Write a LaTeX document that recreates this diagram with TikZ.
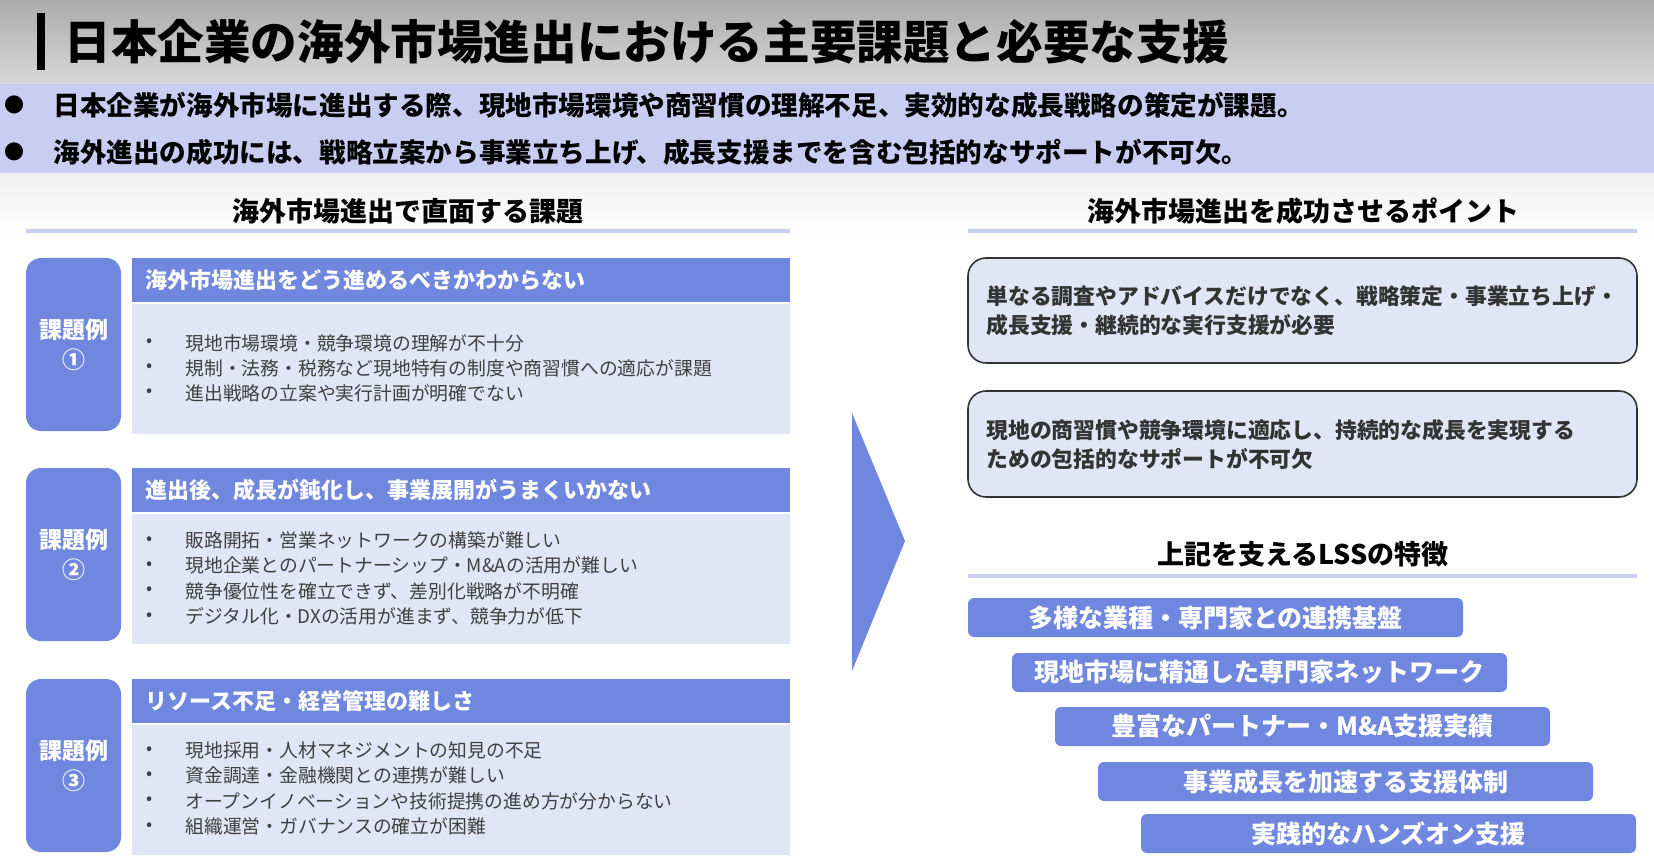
\documentclass[tikz,border=0pt]{standalone}
\usepackage{fontspec}
\setmainfont{Noto Sans CJK JP}
\usetikzlibrary{positioning}
\definecolor{lssblue}{HTML}{6F87DE}
\definecolor{lsspale}{HTML}{E1E6F6}
\definecolor{lssband}{HTML}{C7CEF2}
\definecolor{lsstext}{HTML}{404040}
\definecolor{lssdark}{HTML}{333333}

\begin{document}
\begin{tikzpicture}[x=0.5pt,y=-0.5pt,
	every node/.style={inner sep=0pt},
	lead/.style={anchor=west,font=\fontsize{13.3}{16}\selectfont\bfseries},
	head/.style={font=\fontsize{13.5}{16}\selectfont\bfseries},
	rule/.style={draw=lssband,line width=2pt},
	bartext/.style={anchor=west,text=white,font=\fontsize{11}{13}\selectfont\bfseries},
	tagtext/.style={align=center,text=white,font=\fontsize{11.5}{15}\selectfont\bfseries},
	item/.style={anchor=west,text=lsstext,font=\fontsize{9.4}{12}\selectfont},
	pointtext/.style={anchor=west,align=left,text=lssdark,font=\fontsize{10.9}{14.5}\selectfont\bfseries},
	laddertext/.style={text=white,font=\fontsize{12.5}{15}\selectfont\bfseries}
	]
	
	\useasboundingbox (0,0) rectangle (1654,861);
	
	% title
	\shade[top color=black!33,bottom color=black!15] (0,0) rectangle (1654,84);
	\fill[black] (37,13) rectangle (45,70);
	\node[anchor=west,font=\fontsize{23.3}{26}\selectfont\bfseries] (title) at (64,42)
	{日本企業の海外市場進出における主要課題と必要な支援};
	
	\fill[lssband] (0,84) rectangle (1654,174);
	\shade[top color=black!6,bottom color=white] (0,174) rectangle (1654,235);
	\node[font=\fontsize{10}{12}\selectfont] (dot1) at (14,105) {●};
	\node[lead] (lead1) at (53,105)
	{日本企業が海外市場に進出する際、現地市場環境や商習慣の理解不足、実効的な成長戦略の策定が課題。};
	\node[font=\fontsize{10}{12}\selectfont] (dot2) at (14,152) {●};
	\node[lead] (lead2) at (53,152)
	{海外進出の成功には、戦略立案から事業立ち上げ、成長支援までを含む包括的なサポートが不可欠。};
	
	% left column
	\node[head] (lefthead) at (408,211) {海外市場進出で直面する課題};
	\draw[rule] (26,231) -- (790,231);
	
	\foreach \y/\n/\h [count=\k] in {258/①/海外市場進出をどう進めるべきかわからない,
		468/②/進出後、成長が鈍化し、事業展開がうまくいかない,
		679/③/リソース不足・経営管理の難しさ}{
		\fill[lssblue,rounded corners=7.5pt] (26,\y) rectangle (121,\y+173);
		\fill[lssblue] (132,\y) rectangle (790,\y+44);
		\fill[lsspale] (132,\y+46) rectangle (790,\y+176);
		\node[tagtext] (tag\k) at (74,\y+87) {課題例\\\n};
		\node[bartext] (bar\k) at (145,\y+22) {\h};
	}
	
	\foreach \t [count=\i] in {現地市場環境・競争環境の理解が不十分,
		規制・法務・税務など現地特有の制度や商習慣への適応が課題,
		進出戦略の立案や実行計画が明確でない}{
		\node[text=lsstext,font=\small] (dA\i) at (150,318+25*\i) {•};
		\node[item] (itemA\i) at (185,318+25*\i) {\t};
	}
	\foreach \t [count=\i] in {販路開拓・営業ネットワークの構築が難しい,
		現地企業とのパートナーシップ・M\&Aの活用が難しい,
		競争優位性を確立できず、差別化戦略が不明確,
		デジタル化・DXの活用が進まず、競争力が低下}{
		\node[text=lsstext,font=\small] (dB\i) at (150,515+25.3*\i) {•};
		\node[item] (itemB\i) at (185,515+25.3*\i) {\t};
	}
	\foreach \t [count=\i] in {現地採用・人材マネジメントの知見の不足,
		資金調達・金融機関との連携が難しい,
		オープンイノベーションや技術提携の進め方が分からない,
		組織運営・ガバナンスの確立が困難}{
		\node[text=lsstext,font=\small] (dC\i) at (150,725+25.3*\i) {•};
		\node[item] (itemC\i) at (185,725+25.3*\i) {\t};
	}
	
	% arrow
	\fill[lssblue] (852,413) -- (905,541) -- (852,671) -- cycle;
	
	% right column
	\node[head] (righthead) at (1303,211) {海外市場進出を成功させるポイント};
	\draw[rule] (968,231) -- (1637,231);
	
	\draw[draw=lssdark,fill=lsspale,line width=0.8pt,rounded corners=9pt] (968,258) rectangle (1637,363);
	\node[pointtext] (point1) at (986,310.5)
	{単なる調査やアドバイスだけでなく、戦略策定・事業立ち上げ・\\成長支援・継続的な実行支援が必要};
	\draw[draw=lssdark,fill=lsspale,line width=0.8pt,rounded corners=9pt] (968,391) rectangle (1637,497);
	\node[pointtext] (point2) at (986,444.5)
	{現地の商習慣や競争環境に適応し、持続的な成長を実現する\\ための包括的なサポートが不可欠};
	
	\node[head] (lsshead) at (1303,554) {上記を支えるLSSの特徴};
	\draw[rule] (968,576) -- (1637,576);
	
	\foreach \x/\y/\t [count=\i] in {968/598/多様な業種・専門家との連携基盤,
		1012/653/現地市場に精通した専門家ネットワーク,
		1055/707/豊富なパートナー・M\&A支援実績,
		1098/762/事業成長を加速する支援体制,
		1141/814/実践的なハンズオン支援}{
		\fill[lssblue,rounded corners=3pt] (\x,\y) rectangle (\x+495,\y+39);
		\node[laddertext] (feat\i) at (\x+247.5,\y+19.5) {\t};
	}
	
\end{tikzpicture}
\end{document}
